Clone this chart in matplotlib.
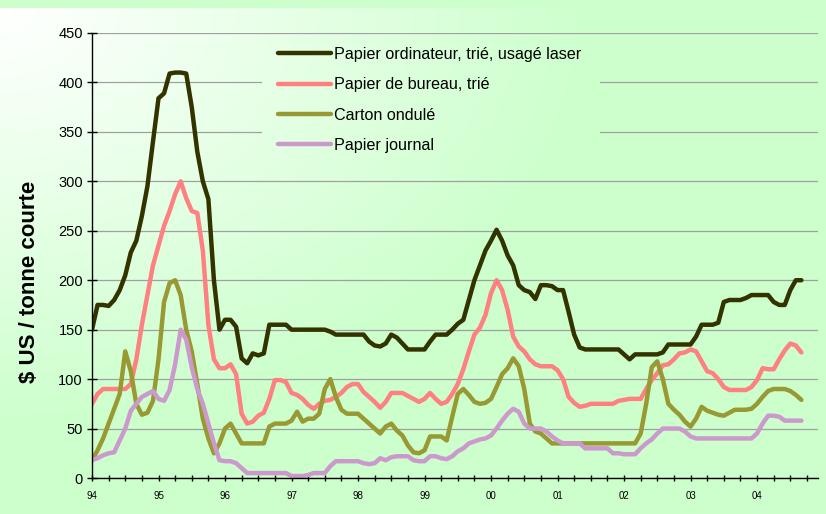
import numpy as np
import matplotlib
matplotlib.use('Agg')
import matplotlib.pyplot as plt
from matplotlib.ticker import FixedLocator

plt.rcParams['font.family'] = ['Liberation Sans', 'DejaVu Sans']

# prix mensuels, janvier 1994 -> septembre 2004 ($ US / tonne courte)
start_year = 1994
ordinateur = [150, 175, 175, 174, 180, 190, 205, 228, 240, 265, 295, 340,
              384, 389, 409, 410, 410, 409, 375, 330, 300, 282, 200, 150,
              160, 160, 153, 121, 116, 126, 124, 126, 155, 155, 155, 155,
              150, 150, 150, 150, 150, 150, 150, 148, 145, 145, 145, 145,
              145, 145, 138, 134, 133, 136, 145, 142, 136, 130, 130, 130,
              130, 138, 145, 145, 145, 150, 156, 160, 180, 200, 215, 230,
              240, 251, 240, 225, 215, 195, 190, 188, 181, 195, 195, 194,
              190, 190, 168, 145, 132, 130, 130, 130, 130, 130, 130, 130,
              125, 120, 125, 125, 125, 125, 125, 127, 135, 135, 135, 135,
              135, 143, 155, 155, 155, 157, 178, 180, 180, 180, 182, 185,
              185, 185, 185, 178, 175, 175, 190, 200, 200]
bureau = [75, 85, 90, 90, 90, 90, 90, 95, 120, 155, 185, 215,
          235, 255, 270, 287, 300, 283, 270, 268, 230, 155, 120, 111,
          111, 115, 105, 65, 55, 57, 63, 66, 80, 99, 99, 97,
          86, 84, 80, 74, 70, 75, 78, 79, 82, 86, 92, 95,
          95, 87, 82, 77, 71, 77, 86, 86, 86, 83, 80, 77,
          80, 86, 80, 75, 77, 85, 95, 110, 128, 145, 152, 165,
          187, 200, 190, 170, 143, 133, 128, 120, 115, 113, 113, 113,
          109, 100, 82, 76, 72, 73, 75, 75, 75, 75, 75, 78,
          79, 80, 80, 80, 90, 99, 106, 114, 115, 120, 126, 127,
          130, 128, 118, 108, 106, 100, 92, 89, 89, 89, 89, 92,
          99, 111, 110, 110, 120, 129, 136, 134, 127]
carton = [18, 28, 40, 55, 70, 85, 128, 108, 75, 64, 66, 78,
          120, 178, 197, 200, 185, 150, 128, 95, 60, 40, 25, 35,
          50, 55, 45, 35, 35, 35, 35, 35, 52, 55, 55, 55,
          58, 67, 57, 60, 60, 65, 90, 100, 82, 69, 65, 65,
          65, 60, 55, 50, 45, 52, 55, 48, 43, 33, 26, 25,
          28, 42, 42, 42, 38, 62, 85, 90, 84, 77, 75, 76,
          80, 92, 105, 111, 121, 113, 90, 55, 47, 45, 40, 35,
          35, 35, 35, 35, 35, 35, 35, 35, 35, 35, 35, 35,
          35, 35, 35, 45, 75, 112, 118, 100, 75, 69, 64, 57,
          52, 60, 72, 68, 66, 64, 63, 66, 69, 69, 69, 70,
          75, 82, 88, 90, 90, 90, 88, 84, 79]
journal = [18, 20, 23, 25, 26, 38, 50, 68, 75, 82, 85, 88,
           80, 78, 89, 115, 150, 140, 112, 90, 75, 55, 35, 18,
           17, 17, 15, 10, 5, 5, 5, 5, 5, 5, 5, 5,
           2, 2, 2, 3, 5, 5, 5, 12, 17, 17, 17, 17,
           17, 15, 14, 15, 20, 18, 21, 22, 22, 22, 18, 17,
           17, 22, 22, 20, 19, 22, 27, 30, 35, 37, 39, 40,
           43, 50, 58, 65, 70, 67, 55, 50, 50, 50, 47, 42,
           38, 35, 35, 35, 35, 30, 30, 30, 30, 30, 25, 25,
           24, 24, 24, 30, 35, 39, 45, 50, 50, 50, 50, 47,
           42, 40, 40, 40, 40, 40, 40, 40, 40, 40, 40, 40,
           45, 55, 63, 63, 62, 58, 58, 58, 58]

series = [ordinateur, bureau, carton, journal]
labels = ['Papier ordinateur, trié, usagé laser', 'Papier de bureau, trié',
          'Carton ondulé', 'Papier journal']
colors = ['#333300', '#ff8080', '#999933', '#cc99cc']
year_labels = ['94', '95', '96', '97', '98', '99', '00', '01', '02', '03', '04']

W, H = 826, 514
fig = plt.figure(figsize=(W / 100, H / 100), dpi=100)

# fond en dégradé blanc -> vert pâle
yy, xx = np.mgrid[0:H, 0:W]
t = np.clip(np.sqrt((xx / 600.0) ** 2 + ((yy - 10) / 420.0) ** 2), 0, 1)[..., None]
light = np.array([1.0, 1.0, 1.0])
green = np.array([0.8, 1.0, 0.8])
img = light * (1 - t) + green * t
img[:8] = green
bg = fig.add_axes([0, 0, 1, 1])
bg.imshow(img, aspect='auto', interpolation='bilinear')
bg.axis('off')

ax = fig.add_axes([92 / W, 36 / H, 726 / W, 445 / H])
ax.patch.set_alpha(0)

x = start_year + np.arange(len(ordinateur)) / 12.0
for vals, lab, col in zip(series, labels, colors):
    ax.plot(x, vals, color=col, lw=3.2, label=lab,
            solid_joinstyle='round', solid_capstyle='round')

# zone de la légende : même dégradé, cache le quadrillage
lx0, lx1, ly0, ly1 = 262, 600, 36, 160
ax.imshow(img[ly0:ly1, lx0:lx1], extent=[lx0 / W, lx1 / W, 1 - ly1 / H, 1 - ly0 / H],
          transform=fig.transFigure, aspect='auto', zorder=1, interpolation='bilinear')

ax.set_xlim(start_year, start_year + 131 / 12.0)
ax.set_ylim(0, 450)
ax.set_yticks(range(0, 451, 50))
years = np.arange(start_year, start_year + len(year_labels))
ax.set_xticks(years)
ax.set_xticklabels(year_labels)
ax.xaxis.set_minor_locator(FixedLocator(np.arange(start_year, 2004.8, 0.25)))
ax.tick_params(axis='y', direction='inout', length=7, width=1, labelsize=10.5, pad=3)
ax.tick_params(axis='x', which='both', direction='inout', length=5, width=1,
               labelsize=7, pad=7)
ax.yaxis.grid(True, color='#a0a0a0', lw=0.9)
ax.set_axisbelow(True)
for s in ['top', 'right']:
    ax.spines[s].set_visible(False)
for s in ['left', 'bottom']:
    ax.spines[s].set_linewidth(1)

ax.set_ylabel('$ US / tonne courte', fontsize=16, fontweight='bold')
ax.yaxis.set_label_coords(-0.071, 0.44)

leg = ax.legend(loc='upper left', bbox_to_anchor=(270 / W, 1 - 39 / H),
                bbox_transform=fig.transFigure, fontsize=11.6, handlelength=3.3,
                handletextpad=0.15, labelspacing=0.95, borderpad=0.5,
                borderaxespad=0, frameon=False)

fig.savefig('out.png', dpi=100)
